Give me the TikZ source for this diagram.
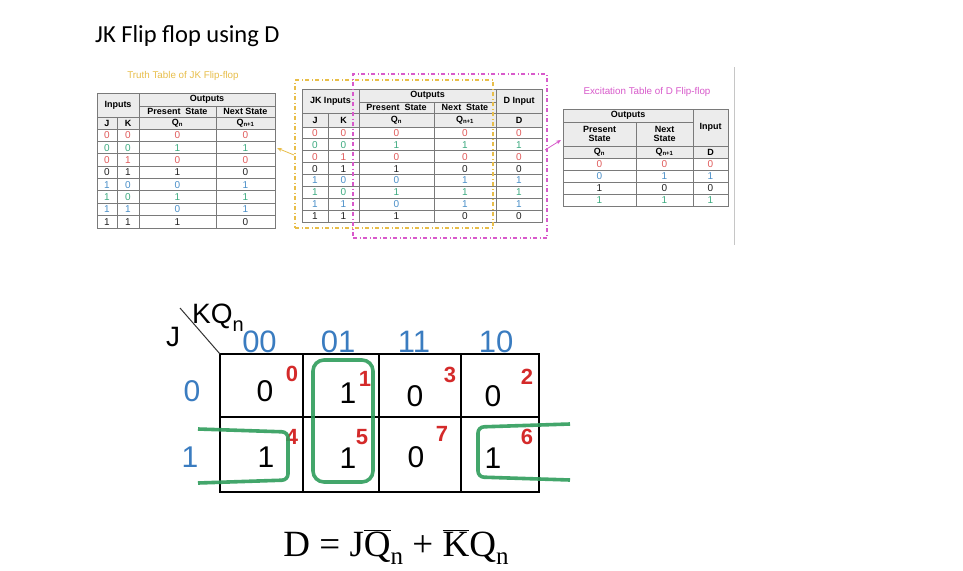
\documentclass[tikz,border=0pt]{standalone}
\usepackage{fontspec}
\setmainfont{Liberation Sans}
\newfontfamily\titlefont{Carlito}
\newfontfamily\eqfont{Liberation Serif}
\usetikzlibrary{arrows.meta}
\definecolor{tred}{HTML}{E05A5A}
\definecolor{tgreen}{HTML}{3DAA80}
\definecolor{tblue}{HTML}{4A8FC8}
\definecolor{tblack}{HTML}{222222}
\definecolor{kblue}{HTML}{3A7CC0}
\definecolor{kred}{HTML}{D42A2A}
\definecolor{kgreen}{HTML}{2F9D5B}
\definecolor{cgold}{HTML}{E8BE4A}
\definecolor{cmag}{HTML}{D85ACB}
\definecolor{hdrgray}{HTML}{ECECEC}
\definecolor{linegray}{HTML}{7A7A7A}
\begin{document}
\begin{tikzpicture}[x=1pt,y=-1pt,
  tline/.style={draw=linegray,line width=0.8pt},
  hb/.style={inner sep=0pt,font=\fontsize{9}{9.5}\selectfont\bfseries,align=center},
  td/.style={inner sep=0pt,font=\fontsize{10}{10}\selectfont},
  captext/.style={inner sep=0pt,font=\fontsize{9.8}{11}\selectfont},
  kline/.style={draw=black,line width=1.1pt},
  khead/.style={inner sep=0pt,font=\fontsize{31}{32}\selectfont},
  kbig/.style={inner sep=0pt,font=\fontsize{30}{32}\selectfont},
  kidx/.style={inner sep=0pt,text=kred,font=\fontsize{22}{24}\selectfont\bfseries},
  gloop/.style={draw=kgreen,line width=3.6pt,opacity=0.9},
  frameY/.style={draw=cgold,line width=1.3pt,dash pattern=on 4pt off 2.5pt on 1pt off 2.5pt},
  frameM/.style={draw=cmag,line width=1.3pt,dash pattern=on 4pt off 2.5pt on 1pt off 2.5pt}]
\useasboundingbox (0,0) rectangle (963,570);
\fill[white] (0,0) rectangle (963,570);

% title
\node[anchor=base west,inner sep=0pt] (title) at (95,42) {\titlefont\fontsize{24.5}{28}\selectfont JK Flip flop using D};

% ---------- Table 1 ----------
\node[captext,text=cgold] (cap1) at (183,76) {Truth Table of JK Flip-flop};
\fill[hdrgray] (97,93) rectangle (275,129);
\draw[tline] (97,93) rectangle (275,228);
\draw[tline] (139,106) -- (275,106);
\draw[tline] (97,117) -- (275,117);
\draw[tline] (97,129) -- (275,129);
\foreach \i in {1,...,7} \draw[tline] (97,{129+12.375*\i}) -- (275,{129+12.375*\i});
\draw[tline] (117,117) -- (117,228);
\draw[tline] (139,93) -- (139,228);
\draw[tline] (216,106) -- (216,228);
\node[hb] (a-in) at (118,105) {Inputs};
\node[hb] (a-out) at (207,99.5) {Outputs};
\node[hb] (a-ps) at (177.5,111.5) {Present\ \ State};
\node[hb] (a-ns) at (245.5,111.5) {Next\ State};
\node[hb] (a-j) at (107,123) {J};
\node[hb] (a-k) at (128,123) {K};
\node[hb] (a-q) at (177.5,123) {Q\textsubscript{n}};
\node[hb] (a-q1) at (245.5,123) {Q\textsubscript{n+1}};
\foreach \a/\b/\c/\d/\col [count=\i from 0] in
  {0/0/0/0/tred,0/0/1/1/tgreen,0/1/0/0/tred,0/1/1/0/tblack,
   1/0/0/1/tblue,1/0/1/1/tgreen,1/1/0/1/tblue,1/1/1/0/tblack}{
  \node[td,text=\col] (a1-\i) at (107,{129+12.375*(\i+0.5)}) {\a};
  \node[td,text=\col] (a2-\i) at (128,{129+12.375*(\i+0.5)}) {\b};
  \node[td,text=\col] (a3-\i) at (177.5,{129+12.375*(\i+0.5)}) {\c};
  \node[td,text=\col] (a4-\i) at (245.5,{129+12.375*(\i+0.5)}) {\d};
}

% ---------- Table 2 ----------
\fill[hdrgray] (302,89) rectangle (542,127);
\draw[tline] (302,89) rectangle (542,222);
\draw[tline] (359,102) -- (496,102);
\draw[tline] (302,113) -- (542,113);
\draw[tline] (302,127) -- (542,127);
\foreach \i in {1,...,7} \draw[tline] (302,{127+11.875*\i}) -- (542,{127+11.875*\i});
\draw[tline] (328,113) -- (328,222);
\draw[tline] (359,89) -- (359,222);
\draw[tline] (434,102) -- (434,222);
\draw[tline] (496,89) -- (496,222);
\node[hb] (b-in) at (330.5,101) {JK Inputs};
\node[hb] (b-out) at (427.5,95.5) {Outputs};
\node[hb] (b-ps) at (396.5,107.5) {Present\ \ State};
\node[hb] (b-ns) at (465,107.5) {Next\ \ State};
\node[hb] (b-din) at (519,101) {D Input};
\node[hb] (b-j) at (315,120) {J};
\node[hb] (b-k) at (343.5,120) {K};
\node[hb] (b-q) at (396.5,120) {Q\textsubscript{n}};
\node[hb] (b-q1) at (465,120) {Q\textsubscript{n+1}};
\node[hb] (b-d) at (519,120) {D};
\foreach \a/\b/\c/\d/\e/\col [count=\i from 0] in
  {0/0/0/0/0/tred,0/0/1/1/1/tgreen,0/1/0/0/0/tred,0/1/1/0/0/tblack,
   1/0/0/1/1/tblue,1/0/1/1/1/tgreen,1/1/0/1/1/tblue,1/1/1/0/0/tblack}{
  \node[td,text=\col] (b1-\i) at (315,{127+11.875*(\i+0.5)}) {\a};
  \node[td,text=\col] (b2-\i) at (343.5,{127+11.875*(\i+0.5)}) {\b};
  \node[td,text=\col] (b3-\i) at (396.5,{127+11.875*(\i+0.5)}) {\c};
  \node[td,text=\col] (b4-\i) at (465,{127+11.875*(\i+0.5)}) {\d};
  \node[td,text=\col] (b5-\i) at (519,{127+11.875*(\i+0.5)}) {\e};
}
% dash-dot frames
\node[frameY,inner sep=0pt,minimum width=198pt,minimum height=148pt] (fy) at (394,154) {};
\node[frameM,inner sep=0pt,minimum width=194pt,minimum height=164pt] (fm) at (450,156) {};

% ---------- Table 3 ----------
\node[captext,text=cmag] (cap3) at (647,92) {Excitation Table of D Flip-flop};
\fill[hdrgray] (563,109) rectangle (728,158);
\draw[tline] (563,109) rectangle (728,206);
\draw[tline] (563,122) -- (693,122);
\draw[tline] (563,146) -- (728,146);
\draw[tline] (563,158) -- (728,158);
\foreach \i in {1,2,3} \draw[tline] (563,{158+12*\i}) -- (728,{158+12*\i});
\draw[tline] (636,122) -- (636,206);
\draw[tline] (693,109) -- (693,206);
\node[hb] (c-out) at (628,115.5) {Outputs};
\node[hb] (c-ps) at (599.5,134) {Present\\State};
\node[hb] (c-ns) at (664.5,134) {Next\\State};
\node[hb] (c-in) at (710.5,127.5) {Input};
\node[hb] (c-q) at (599.5,152) {Q\textsubscript{n}};
\node[hb] (c-q1) at (664.5,152) {Q\textsubscript{n+1}};
\node[hb] (c-d) at (710.5,152) {D};
\foreach \a/\b/\c/\col [count=\i from 0] in
  {0/0/0/tred,0/1/1/tblue,1/0/0/tblack,1/1/1/tgreen}{
  \node[td,text=\col] (c1-\i) at (599.5,{158+12*(\i+0.5)}) {\a};
  \node[td,text=\col] (c2-\i) at (664.5,{158+12*(\i+0.5)}) {\b};
  \node[td,text=\col] (c3-\i) at (710.5,{158+12*(\i+0.5)}) {\c};
}
\draw[gray!45,line width=0.8pt] (734,67) -- (734,245);

% arrows
\coordinate (ya) at (294,155);
\coordinate (yb) at (277,148);
\coordinate (ma) at (545,150);
\coordinate (mb) at (561,140);
\draw[cgold,line width=0.8pt,-{Stealth[length=5pt,width=4pt]}] (ya) -- (yb);
\draw[cmag,line width=0.8pt,-{Stealth[length=5pt,width=4pt]}] (ma) -- (mb);

% ---------- K-map ----------
\draw[kline] (220,354) rectangle (539,492);
\draw[kline] (220,417) -- (539,417);
\foreach \x in {303,379,461} \draw[kline] (\x,354) -- (\x,492);
\draw[black!80,line width=1pt] (180,308) -- (220,354);
\node[anchor=base west,inner sep=0pt,font=\fontsize{28}{30}\selectfont] (kq) at (192,323) {KQ\raisebox{-0.3em}{\fontsize{20}{22}\selectfont n}};
\node[anchor=base west,inner sep=0pt,font=\fontsize{28}{30}\selectfont] (jl) at (166,346) {J};
\node[khead,text=kblue] (h00) at (259.5,342) {00};
\node[khead,text=kblue] (h01) at (338,342) {01};
\node[khead,text=kblue] (h11) at (414,342) {11};
\node[khead,text=kblue] (h10) at (496,342) {10};
\node[kbig,text=kblue] (r0) at (192,391) {0};
\node[kbig,text=kblue] (r1) at (190,457) {1};
\node[kbig] (m0) at (265,391) {0};
\node[kbig] (m1) at (348,393) {1};
\node[kbig] (m3) at (415,396) {0};
\node[kbig] (m2) at (493,396) {0};
\node[kbig] (m4) at (266,457) {1};
\node[kbig] (m5) at (348,458) {1};
\node[kbig] (m7) at (416,457) {0};
\node[kbig] (m6) at (493,458) {1};
\node[kidx] (i0) at (292,374) {0};
\node[kidx] (i1) at (365,379) {1};
\node[kidx] (i3) at (450,375) {3};
\node[kidx] (i2) at (527,377) {2};
\node[kidx] (i4) at (292,437) {4};
\node[kidx] (i5) at (362,437) {5};
\node[kidx] (i7) at (442,434) {7};
\node[kidx] (i6) at (527,437) {6};
\draw[gloop,rounded corners=11pt] (313,360) rectangle (373,482);
\draw[gloop,rounded corners=6pt] (198,429) -- (288,432) -- (288,480) -- (198,483);
\draw[gloop,rounded corners=6pt] (570,424) -- (478,427) -- (478,477) -- (570,480);

% equation
\node[anchor=base,inner sep=0pt] (eq) at (396,556) {\eqfont\fontsize{37}{40}\selectfont D = J$\overline{\hbox{Q}}$\raisebox{-0.22em}{\fontsize{25}{26}\selectfont n} + $\overline{\hbox{K}}$Q\raisebox{-0.22em}{\fontsize{25}{26}\selectfont n}};
\end{tikzpicture}
\end{document}
